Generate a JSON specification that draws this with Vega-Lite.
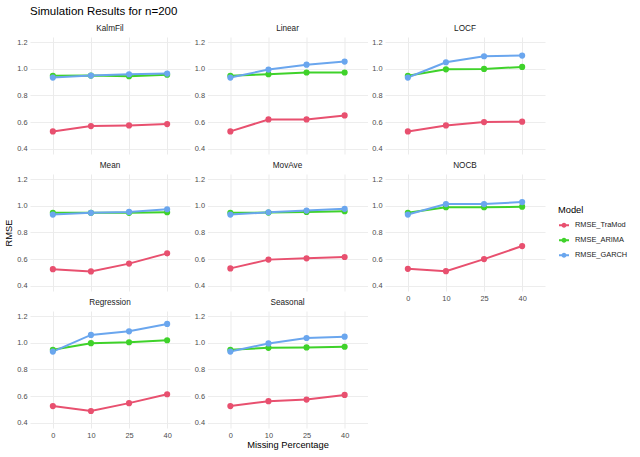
{
  "$schema": "https://vega.github.io/schema/vega-lite/v6.json",
  "padding": {"left": 4, "top": 6, "right": 5, "bottom": 5},
  "background": "white",
  "title": {"text": "Simulation Results for n=200", "anchor": "start", "frame": "group", "fontSize": 11.5, "fontWeight": "normal", "color": "#000000", "offset": 6},
  "data": {
    "values": [
      {"Method": "KalmFil", "Model": "RMSE_TraMod", "Missing": 0, "RMSE": 0.53},
      {"Method": "KalmFil", "Model": "RMSE_TraMod", "Missing": 10, "RMSE": 0.57},
      {"Method": "KalmFil", "Model": "RMSE_TraMod", "Missing": 25, "RMSE": 0.575},
      {"Method": "KalmFil", "Model": "RMSE_TraMod", "Missing": 40, "RMSE": 0.585},
      {"Method": "KalmFil", "Model": "RMSE_ARIMA", "Missing": 0, "RMSE": 0.948},
      {"Method": "KalmFil", "Model": "RMSE_ARIMA", "Missing": 10, "RMSE": 0.95},
      {"Method": "KalmFil", "Model": "RMSE_ARIMA", "Missing": 25, "RMSE": 0.945},
      {"Method": "KalmFil", "Model": "RMSE_ARIMA", "Missing": 40, "RMSE": 0.957},
      {"Method": "KalmFil", "Model": "RMSE_GARCH", "Missing": 0, "RMSE": 0.935},
      {"Method": "KalmFil", "Model": "RMSE_GARCH", "Missing": 10, "RMSE": 0.95},
      {"Method": "KalmFil", "Model": "RMSE_GARCH", "Missing": 25, "RMSE": 0.96},
      {"Method": "KalmFil", "Model": "RMSE_GARCH", "Missing": 40, "RMSE": 0.965},
      {"Method": "Linear", "Model": "RMSE_TraMod", "Missing": 0, "RMSE": 0.53},
      {"Method": "Linear", "Model": "RMSE_TraMod", "Missing": 10, "RMSE": 0.62},
      {"Method": "Linear", "Model": "RMSE_TraMod", "Missing": 25, "RMSE": 0.62},
      {"Method": "Linear", "Model": "RMSE_TraMod", "Missing": 40, "RMSE": 0.65},
      {"Method": "Linear", "Model": "RMSE_ARIMA", "Missing": 0, "RMSE": 0.948},
      {"Method": "Linear", "Model": "RMSE_ARIMA", "Missing": 10, "RMSE": 0.96},
      {"Method": "Linear", "Model": "RMSE_ARIMA", "Missing": 25, "RMSE": 0.973},
      {"Method": "Linear", "Model": "RMSE_ARIMA", "Missing": 40, "RMSE": 0.973},
      {"Method": "Linear", "Model": "RMSE_GARCH", "Missing": 0, "RMSE": 0.935},
      {"Method": "Linear", "Model": "RMSE_GARCH", "Missing": 10, "RMSE": 0.995},
      {"Method": "Linear", "Model": "RMSE_GARCH", "Missing": 25, "RMSE": 1.032},
      {"Method": "Linear", "Model": "RMSE_GARCH", "Missing": 40, "RMSE": 1.055},
      {"Method": "LOCF", "Model": "RMSE_TraMod", "Missing": 0, "RMSE": 0.53},
      {"Method": "LOCF", "Model": "RMSE_TraMod", "Missing": 10, "RMSE": 0.575},
      {"Method": "LOCF", "Model": "RMSE_TraMod", "Missing": 25, "RMSE": 0.6},
      {"Method": "LOCF", "Model": "RMSE_TraMod", "Missing": 40, "RMSE": 0.603},
      {"Method": "LOCF", "Model": "RMSE_ARIMA", "Missing": 0, "RMSE": 0.948},
      {"Method": "LOCF", "Model": "RMSE_ARIMA", "Missing": 10, "RMSE": 0.997},
      {"Method": "LOCF", "Model": "RMSE_ARIMA", "Missing": 25, "RMSE": 1.0},
      {"Method": "LOCF", "Model": "RMSE_ARIMA", "Missing": 40, "RMSE": 1.015},
      {"Method": "LOCF", "Model": "RMSE_GARCH", "Missing": 0, "RMSE": 0.935},
      {"Method": "LOCF", "Model": "RMSE_GARCH", "Missing": 10, "RMSE": 1.05},
      {"Method": "LOCF", "Model": "RMSE_GARCH", "Missing": 25, "RMSE": 1.095},
      {"Method": "LOCF", "Model": "RMSE_GARCH", "Missing": 40, "RMSE": 1.1},
      {"Method": "Mean", "Model": "RMSE_TraMod", "Missing": 0, "RMSE": 0.524},
      {"Method": "Mean", "Model": "RMSE_TraMod", "Missing": 10, "RMSE": 0.507},
      {"Method": "Mean", "Model": "RMSE_TraMod", "Missing": 25, "RMSE": 0.566},
      {"Method": "Mean", "Model": "RMSE_TraMod", "Missing": 40, "RMSE": 0.643},
      {"Method": "Mean", "Model": "RMSE_ARIMA", "Missing": 0, "RMSE": 0.948},
      {"Method": "Mean", "Model": "RMSE_ARIMA", "Missing": 10, "RMSE": 0.948},
      {"Method": "Mean", "Model": "RMSE_ARIMA", "Missing": 25, "RMSE": 0.948},
      {"Method": "Mean", "Model": "RMSE_ARIMA", "Missing": 40, "RMSE": 0.952},
      {"Method": "Mean", "Model": "RMSE_GARCH", "Missing": 0, "RMSE": 0.935},
      {"Method": "Mean", "Model": "RMSE_GARCH", "Missing": 10, "RMSE": 0.948},
      {"Method": "Mean", "Model": "RMSE_GARCH", "Missing": 25, "RMSE": 0.955},
      {"Method": "Mean", "Model": "RMSE_GARCH", "Missing": 40, "RMSE": 0.975},
      {"Method": "MovAve", "Model": "RMSE_TraMod", "Missing": 0, "RMSE": 0.53},
      {"Method": "MovAve", "Model": "RMSE_TraMod", "Missing": 10, "RMSE": 0.596},
      {"Method": "MovAve", "Model": "RMSE_TraMod", "Missing": 25, "RMSE": 0.606},
      {"Method": "MovAve", "Model": "RMSE_TraMod", "Missing": 40, "RMSE": 0.616},
      {"Method": "MovAve", "Model": "RMSE_ARIMA", "Missing": 0, "RMSE": 0.948},
      {"Method": "MovAve", "Model": "RMSE_ARIMA", "Missing": 10, "RMSE": 0.95},
      {"Method": "MovAve", "Model": "RMSE_ARIMA", "Missing": 25, "RMSE": 0.955},
      {"Method": "MovAve", "Model": "RMSE_ARIMA", "Missing": 40, "RMSE": 0.96},
      {"Method": "MovAve", "Model": "RMSE_GARCH", "Missing": 0, "RMSE": 0.935},
      {"Method": "MovAve", "Model": "RMSE_GARCH", "Missing": 10, "RMSE": 0.952},
      {"Method": "MovAve", "Model": "RMSE_GARCH", "Missing": 25, "RMSE": 0.965},
      {"Method": "MovAve", "Model": "RMSE_GARCH", "Missing": 40, "RMSE": 0.978},
      {"Method": "NOCB", "Model": "RMSE_TraMod", "Missing": 0, "RMSE": 0.527},
      {"Method": "NOCB", "Model": "RMSE_TraMod", "Missing": 10, "RMSE": 0.509},
      {"Method": "NOCB", "Model": "RMSE_TraMod", "Missing": 25, "RMSE": 0.6},
      {"Method": "NOCB", "Model": "RMSE_TraMod", "Missing": 40, "RMSE": 0.698},
      {"Method": "NOCB", "Model": "RMSE_ARIMA", "Missing": 0, "RMSE": 0.948},
      {"Method": "NOCB", "Model": "RMSE_ARIMA", "Missing": 10, "RMSE": 0.99},
      {"Method": "NOCB", "Model": "RMSE_ARIMA", "Missing": 25, "RMSE": 0.99},
      {"Method": "NOCB", "Model": "RMSE_ARIMA", "Missing": 40, "RMSE": 0.994},
      {"Method": "NOCB", "Model": "RMSE_GARCH", "Missing": 0, "RMSE": 0.935},
      {"Method": "NOCB", "Model": "RMSE_GARCH", "Missing": 10, "RMSE": 1.014},
      {"Method": "NOCB", "Model": "RMSE_GARCH", "Missing": 25, "RMSE": 1.014},
      {"Method": "NOCB", "Model": "RMSE_GARCH", "Missing": 40, "RMSE": 1.029},
      {"Method": "Regression", "Model": "RMSE_TraMod", "Missing": 0, "RMSE": 0.525},
      {"Method": "Regression", "Model": "RMSE_TraMod", "Missing": 10, "RMSE": 0.488},
      {"Method": "Regression", "Model": "RMSE_TraMod", "Missing": 25, "RMSE": 0.547},
      {"Method": "Regression", "Model": "RMSE_TraMod", "Missing": 40, "RMSE": 0.614},
      {"Method": "Regression", "Model": "RMSE_ARIMA", "Missing": 0, "RMSE": 0.948},
      {"Method": "Regression", "Model": "RMSE_ARIMA", "Missing": 10, "RMSE": 0.998},
      {"Method": "Regression", "Model": "RMSE_ARIMA", "Missing": 25, "RMSE": 1.005},
      {"Method": "Regression", "Model": "RMSE_ARIMA", "Missing": 40, "RMSE": 1.02},
      {"Method": "Regression", "Model": "RMSE_GARCH", "Missing": 0, "RMSE": 0.935},
      {"Method": "Regression", "Model": "RMSE_GARCH", "Missing": 10, "RMSE": 1.06},
      {"Method": "Regression", "Model": "RMSE_GARCH", "Missing": 25, "RMSE": 1.087},
      {"Method": "Regression", "Model": "RMSE_GARCH", "Missing": 40, "RMSE": 1.143},
      {"Method": "Seasonal", "Model": "RMSE_TraMod", "Missing": 0, "RMSE": 0.525},
      {"Method": "Seasonal", "Model": "RMSE_TraMod", "Missing": 10, "RMSE": 0.562},
      {"Method": "Seasonal", "Model": "RMSE_TraMod", "Missing": 25, "RMSE": 0.574},
      {"Method": "Seasonal", "Model": "RMSE_TraMod", "Missing": 40, "RMSE": 0.609},
      {"Method": "Seasonal", "Model": "RMSE_ARIMA", "Missing": 0, "RMSE": 0.948},
      {"Method": "Seasonal", "Model": "RMSE_ARIMA", "Missing": 10, "RMSE": 0.963},
      {"Method": "Seasonal", "Model": "RMSE_ARIMA", "Missing": 25, "RMSE": 0.966},
      {"Method": "Seasonal", "Model": "RMSE_ARIMA", "Missing": 40, "RMSE": 0.971},
      {"Method": "Seasonal", "Model": "RMSE_GARCH", "Missing": 0, "RMSE": 0.935},
      {"Method": "Seasonal", "Model": "RMSE_GARCH", "Missing": 10, "RMSE": 0.996},
      {"Method": "Seasonal", "Model": "RMSE_GARCH", "Missing": 25, "RMSE": 1.037},
      {"Method": "Seasonal", "Model": "RMSE_GARCH", "Missing": 40, "RMSE": 1.047}
    ]
  },
  "columns": 3,
  "bounds": "flush",
  "spacing": {"row": 20, "column": 17.5},
  "resolve": {"scale": {"color": "shared"}, "legend": {"color": "shared"}},
  "concat": [
    {
      "title": {"text": "KalmFil"},
      "transform": [{"filter": "datum.Method === 'KalmFil'"}],
      "width": 160, "height": 117,
      "encoding": {
        "x": {"field": "Missing", "type": "ordinal", "scale": {"type": "point", "padding": 0.6}, "axis": {"labels": false, "title": null}},
        "y": {"field": "RMSE", "type": "quantitative", "scale": {"domain": [0.36, 1.24], "nice": false, "zero": false},
              "axis": {"title": null, "gridWidth": {"condition": {"test": "round(datum.value * 10) % 2 === 0", "value": 0.9}, "value": 0.45}}},
        "color": {"field": "Model", "type": "nominal", "title": "Model", "scale": {"domain": ["RMSE_TraMod", "RMSE_ARIMA", "RMSE_GARCH"], "range": ["#E8506F", "#3FD22A", "#6AA6EE"]}}
      },
      "layer": [
        {"mark": {"type": "line", "strokeWidth": 2}},
        {"mark": {"type": "point", "filled": true, "size": 38, "opacity": 1}}
      ]
    },
    {
      "title": {"text": "Linear"},
      "transform": [{"filter": "datum.Method === 'Linear'"}],
      "width": 160, "height": 117,
      "encoding": {
        "x": {"field": "Missing", "type": "ordinal", "scale": {"type": "point", "padding": 0.6}, "axis": {"labels": false, "title": null}},
        "y": {"field": "RMSE", "type": "quantitative", "scale": {"domain": [0.36, 1.24], "nice": false, "zero": false},
              "axis": {"title": null, "gridWidth": {"condition": {"test": "round(datum.value * 10) % 2 === 0", "value": 0.9}, "value": 0.45}}},
        "color": {"field": "Model", "type": "nominal", "title": "Model", "scale": {"domain": ["RMSE_TraMod", "RMSE_ARIMA", "RMSE_GARCH"], "range": ["#E8506F", "#3FD22A", "#6AA6EE"]}}
      },
      "layer": [
        {"mark": {"type": "line", "strokeWidth": 2}},
        {"mark": {"type": "point", "filled": true, "size": 38, "opacity": 1}}
      ]
    },
    {
      "title": {"text": "LOCF"},
      "transform": [{"filter": "datum.Method === 'LOCF'"}],
      "width": 160, "height": 117,
      "encoding": {
        "x": {"field": "Missing", "type": "ordinal", "scale": {"type": "point", "padding": 0.6}, "axis": {"labels": false, "title": null}},
        "y": {"field": "RMSE", "type": "quantitative", "scale": {"domain": [0.36, 1.24], "nice": false, "zero": false},
              "axis": {"title": null, "gridWidth": {"condition": {"test": "round(datum.value * 10) % 2 === 0", "value": 0.9}, "value": 0.45}}},
        "color": {"field": "Model", "type": "nominal", "title": "Model", "scale": {"domain": ["RMSE_TraMod", "RMSE_ARIMA", "RMSE_GARCH"], "range": ["#E8506F", "#3FD22A", "#6AA6EE"]}}
      },
      "layer": [
        {"mark": {"type": "line", "strokeWidth": 2}},
        {"mark": {"type": "point", "filled": true, "size": 38, "opacity": 1}}
      ]
    },
    {
      "title": {"text": "Mean"},
      "transform": [{"filter": "datum.Method === 'Mean'"}],
      "width": 160, "height": 117,
      "encoding": {
        "x": {"field": "Missing", "type": "ordinal", "scale": {"type": "point", "padding": 0.6}, "axis": {"labels": false, "title": null}},
        "y": {"field": "RMSE", "type": "quantitative", "scale": {"domain": [0.36, 1.24], "nice": false, "zero": false},
              "axis": {"title": "RMSE", "gridWidth": {"condition": {"test": "round(datum.value * 10) % 2 === 0", "value": 0.9}, "value": 0.45}}},
        "color": {"field": "Model", "type": "nominal", "title": "Model", "scale": {"domain": ["RMSE_TraMod", "RMSE_ARIMA", "RMSE_GARCH"], "range": ["#E8506F", "#3FD22A", "#6AA6EE"]}}
      },
      "layer": [
        {"mark": {"type": "line", "strokeWidth": 2}},
        {"mark": {"type": "point", "filled": true, "size": 38, "opacity": 1}}
      ]
    },
    {
      "title": {"text": "MovAve"},
      "transform": [{"filter": "datum.Method === 'MovAve'"}],
      "width": 160, "height": 117,
      "encoding": {
        "x": {"field": "Missing", "type": "ordinal", "scale": {"type": "point", "padding": 0.6}, "axis": {"labels": false, "title": null}},
        "y": {"field": "RMSE", "type": "quantitative", "scale": {"domain": [0.36, 1.24], "nice": false, "zero": false},
              "axis": {"title": null, "gridWidth": {"condition": {"test": "round(datum.value * 10) % 2 === 0", "value": 0.9}, "value": 0.45}}},
        "color": {"field": "Model", "type": "nominal", "title": "Model", "scale": {"domain": ["RMSE_TraMod", "RMSE_ARIMA", "RMSE_GARCH"], "range": ["#E8506F", "#3FD22A", "#6AA6EE"]}}
      },
      "layer": [
        {"mark": {"type": "line", "strokeWidth": 2}},
        {"mark": {"type": "point", "filled": true, "size": 38, "opacity": 1}}
      ]
    },
    {
      "title": {"text": "NOCB"},
      "transform": [{"filter": "datum.Method === 'NOCB'"}],
      "width": 160, "height": 117,
      "encoding": {
        "x": {"field": "Missing", "type": "ordinal", "scale": {"type": "point", "padding": 0.6}, "axis": {"title": null}},
        "y": {"field": "RMSE", "type": "quantitative", "scale": {"domain": [0.36, 1.24], "nice": false, "zero": false},
              "axis": {"title": null, "gridWidth": {"condition": {"test": "round(datum.value * 10) % 2 === 0", "value": 0.9}, "value": 0.45}}},
        "color": {"field": "Model", "type": "nominal", "title": "Model", "scale": {"domain": ["RMSE_TraMod", "RMSE_ARIMA", "RMSE_GARCH"], "range": ["#E8506F", "#3FD22A", "#6AA6EE"]}}
      },
      "layer": [
        {"mark": {"type": "line", "strokeWidth": 2}},
        {"mark": {"type": "point", "filled": true, "size": 38, "opacity": 1}}
      ]
    },
    {
      "title": {"text": "Regression"},
      "transform": [{"filter": "datum.Method === 'Regression'"}],
      "width": 160, "height": 117,
      "encoding": {
        "x": {"field": "Missing", "type": "ordinal", "scale": {"type": "point", "padding": 0.6}, "axis": {"title": null}},
        "y": {"field": "RMSE", "type": "quantitative", "scale": {"domain": [0.36, 1.24], "nice": false, "zero": false},
              "axis": {"title": null, "gridWidth": {"condition": {"test": "round(datum.value * 10) % 2 === 0", "value": 0.9}, "value": 0.45}}},
        "color": {"field": "Model", "type": "nominal", "title": "Model", "scale": {"domain": ["RMSE_TraMod", "RMSE_ARIMA", "RMSE_GARCH"], "range": ["#E8506F", "#3FD22A", "#6AA6EE"]}}
      },
      "layer": [
        {"mark": {"type": "line", "strokeWidth": 2}},
        {"mark": {"type": "point", "filled": true, "size": 38, "opacity": 1}}
      ]
    },
    {
      "title": {"text": "Seasonal"},
      "transform": [{"filter": "datum.Method === 'Seasonal'"}],
      "width": 160, "height": 117,
      "encoding": {
        "x": {"field": "Missing", "type": "ordinal", "scale": {"type": "point", "padding": 0.6}, "axis": {"title": "Missing Percentage"}},
        "y": {"field": "RMSE", "type": "quantitative", "scale": {"domain": [0.36, 1.24], "nice": false, "zero": false},
              "axis": {"title": null, "gridWidth": {"condition": {"test": "round(datum.value * 10) % 2 === 0", "value": 0.9}, "value": 0.45}}},
        "color": {"field": "Model", "type": "nominal", "title": "Model", "scale": {"domain": ["RMSE_TraMod", "RMSE_ARIMA", "RMSE_GARCH"], "range": ["#E8506F", "#3FD22A", "#6AA6EE"]}}
      },
      "layer": [
        {"mark": {"type": "line", "strokeWidth": 2}},
        {"mark": {"type": "point", "filled": true, "size": 38, "opacity": 1}}
      ]
    }
  ],
  "config": {
    "font": "Liberation Sans",
    "view": {"stroke": null},
    "title": {"fontSize": 8.2, "fontWeight": "normal", "color": "#1A1A1A", "offset": 4},
    "axis": {
      "domain": false,
      "ticks": false,
      "grid": true,
      "gridColor": "#EBEBEB",
      "labelFontSize": 7.4,
      "labelColor": "#4D4D4D",
      "labelPadding": 3,
      "titleFontSize": 9.3,
      "titleFontWeight": "normal",
      "titleColor": "#000000"
    },
    "axisX": {"labelAngle": 0, "titlePadding": 2},
    "axisY": {
      "values": [0.4, 0.5, 0.6, 0.7, 0.8, 0.9, 1.0, 1.1, 1.2],
      "labelExpr": "round(datum.value * 10) % 2 === 0 ? format(datum.value, '.1f') : ''",
      "titlePadding": 3
    },
    "legend": {
      "orient": "none",
      "legendX": 528,
      "legendY": 169,
      "titleFontSize": 9.3,
      "titleFontWeight": "normal",
      "titleColor": "#000000",
      "titlePadding": 4,
      "labelFontSize": 7.4,
      "labelColor": "#1A1A1A",
      "labelOffset": 5,
      "rowPadding": 3,
      "symbolType": "M-1,0H1M-0.3,0A0.3,0.3 0 1,0 0.3,0A0.3,0.3 0 1,0 -0.3,0Z",
      "symbolSize": 100,
      "symbolStrokeWidth": 2
    }
  }
}
